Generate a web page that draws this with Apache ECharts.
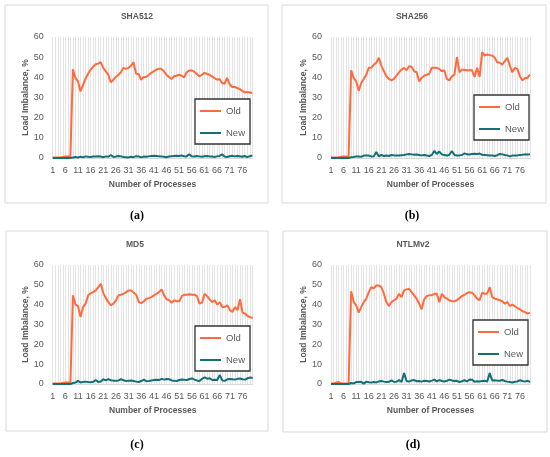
<!DOCTYPE html>
<html><head><meta charset="utf-8">
<script src="https://cdn.jsdelivr.net/npm/echarts@6/dist/echarts.min.js"></script>
<style>html,body{margin:0;padding:0;background:#fff}#c{width:550px;height:457px}</style>
</head><body><div id="c"></div><script>
const categories = Array.from({length: 80}, (_, i) => String(i + 1));
const titles = ['SHA512', 'SHA256', 'MD5', 'NTLMv2'];
const panelLabels = ['(a)', '(b)', '(c)', '(d)'];
const seriesNames = ['Old', 'New'];
const yMin = 0, yMax = 60, yStep = 10;

const sha512Old = [0.2,0.2,0.2,0.3,0.5,0.8,0.8,0.8,
 44,39.7,38,33,36.3,39.3,41.8,43.8, 45.2,46.5,46.8,47.5,44.7,43,41.3,37.5,
 38.8,40.2,41.3,42.5,44.7,44.2,44.7,45.8, 47.5,41.8,41.7,38.8,40.2,40.2,41.2,42.2,
 43,43.8,44.3,44.2,43,41.3,40.2,39.2, 40.5,40.8,41.3,40.8,40,42.5,43.3,43.5,
 42.8,41.7,40.5,41.2,42.2,41.8,41.3,40.5, 39.7,38.8,39.2,37.2,36.8,39.7,36.7,35.2,
 35.2,34.7,34.2,33.3,32.5,32.8,32.5,32.2];
const sha512New = [0,0,0,0,0,0,0,0,
 0.3,0.5,0.2,0.6,0.3,0.8,0.6,0.5, 0.7,0.8,0.9,0.7,0.4,0.8,0.6,1.5,
 0.5,0.7,1.0,0.8,0.5,0.4,0.3,0.6, 0.4,0.9,0.8,0.3,0.7,0.6,0.8,1.0,
 1.1,1.0,0.9,0.8,0.6,0.4,0.7,0.9, 1.0,1.1,1.0,1.2,0.9,0.8,1.8,0.9,
 0.7,1.0,0.8,0.6,0.9,1.0,0.8,0.7, 0.5,0.8,1.0,1.8,0.7,0.5,0.9,1.1,
 0.8,1.0,0.9,0.6,1.0,0.4,0.9,1.2];

const sha256Old = [0.2,0.2,0.3,0.4,0.6,0.8,0.8,0.8,
 43.5,39.7,38,33.3,37.2,39.2,41.3,44.7, 44.7,46.3,47.2,49.7,45.8,43,40.5,39.2,
 38.5,39.2,40.8,42.5,43.8,44.7,43.5,45.5, 45.2,43,42.5,38,39.7,40.8,41.3,41.8,
 44.7,44.7,44.7,44.2,43,43.5,39.2,38.5, 40.5,41.3,50,42.5,43.8,43.8,43.5,43.5,
 43.5,40.2,44.7,40.2,52.5,50.8,51.3,51, 50.8,49.7,47.5,47.2,46.3,48,49.7,45.8,
 42.5,44.7,44.2,40.5,38.5,39.7,39.7,41.3];
const sha256New = [0,0,0,0,0,0,0,0,
 0.4,0.5,0.8,0.7,0.6,1.2,1.3,1.2, 0.8,0.9,3.0,0.8,1.5,1.0,1.2,1.0,
 1.5,1.3,1.2,1.3,1.4,1.5,1.8,2.0, 1.8,1.6,1.7,1.5,1.3,1.5,1.2,1.0,
 1.5,3.5,2.0,3.2,1.8,1.5,1.2,1.6, 3.5,1.5,1.2,1.3,1.5,2.3,1.8,1.7,
 2.0,2.1,2.0,2.2,1.6,1.5,1.4,1.2, 1.3,1.0,1.4,2.0,1.8,1.5,1.3,0.8,
 1.2,1.3,1.3,1.5,1.6,1.8,1.7,1.8];

const md5Old = [0.2,0.2,0.3,0.3,0.5,0.7,0.8,0.8,
 44.7,40,39.3,33.8,38.8,40.5,44.7,45.8, 46.3,47.2,48.8,50.5,45.8,43.3,41.3,39.7,
 40.5,42.2,44.7,45,45.5,46.3,47.2,47.2, 46,45,41.3,40.8,41.7,43,43.3,43.8,
 44.7,45.5,46.3,47.7,44.7,42.7,42.2,41, 42.2,41.7,41.7,44.3,45,45,45.3,45,
 45,44.3,40.5,41,45.5,44.3,42.7,41.3, 42.2,40,41.3,38.8,38.8,39.7,37.2,36.3,
 38.8,37.2,42.7,36,35.5,34.3,33.7,33.3];
const md5New = [0,0,0,0,0,0,0,0,
 0.5,0.7,1.6,0.8,1.0,1.2,1.0,0.9, 1.1,2.0,1.0,1.3,2.4,1.8,2.5,1.9,
 1.7,1.6,1.8,2.4,1.9,1.5,1.7,1.8, 1.5,1.2,1.0,1.5,2.2,1.4,1.5,1.8,
 2.0,2.1,2.0,2.6,2.2,2.5,2.4,1.8, 1.6,1.5,2.0,2.3,2.1,2.0,2.5,2.8,
 2.2,1.8,1.5,2.6,3.3,2.7,2.9,2.0, 2.1,2.0,4.5,1.8,1.6,2.4,2.5,2.4,
 2.2,2.6,2.8,2.4,2.2,2.9,3.3,3.0];

const ntlmOld = [0.2,0.3,0.6,1.0,0.3,0.2,0.2,0.2,
 46.8,41.3,39.7,36,38.8,41.3,43,46.3, 48.8,48.3,49.7,49.7,48.8,45.5,41.3,39.3,
 41.3,42.2,43,45.5,43.8,47.2,47.7,48, 46.3,44.7,43,40.5,37.7,42.7,44.3,44.7,
 44.7,45.5,45.5,41.3,45.5,43.8,43,42.2, 41.7,41.7,42.2,43.3,44.3,45,45.8,46.3,
 46,44.7,43,42.2,46,45.5,45.5,48.8, 43.8,43,42.7,42.2,41.7,40.5,41.3,39.3,
 40,39.2,38.3,37.7,36.7,36.3,35.5,36];
const ntlmNew = [0,0,0,0,0,0,0,0,
 0.5,0.3,1.0,1.0,1.1,0.2,1.2,0.9, 0.7,1.0,0.8,1.3,1.5,1.2,1.0,1.1,
 1.8,1.0,1.2,2.0,1.0,5.5,1.5,1.2, 1.8,2.0,1.4,1.5,1.2,1.6,1.5,1.3,
 1.7,2.2,1.3,2.0,1.5,1.3,1.6,2.2, 1.8,1.5,1.6,1.0,1.4,1.9,1.3,2.3,
 2.2,1.1,1.4,1.3,1.5,1.6,1.2,5.5, 1.8,1.9,1.7,1.6,2.0,1.5,1.2,1.0,
 0.8,1.1,1.3,1.9,1.5,1.2,1.6,1.0];

const oldSeries = [sha512Old, sha256Old, md5Old, ntlmOld];
const newSeries = [sha512New, sha256New, md5New, ntlmNew];

const panels = [
  {grid: {left: 52.7, top: 37, width: 199.6, height: 121}, box: [5, 5, 263, 198], title: [137, 17], label: [137, 216], legend: {left: 195, top: 99}},
  {grid: {left: 331, top: 37, width: 199, height: 121}, box: [282, 5, 264, 198], title: [412, 17], label: [412, 216], legend: {left: 474, top: 95}},
  {grid: {left: 52.7, top: 265, width: 200, height: 119}, box: [6, 231, 262, 200], title: [135, 245], label: [137, 445], legend: {left: 195, top: 326}},
  {grid: {left: 331, top: 265, width: 199, height: 119}, box: [283, 231, 264, 201], title: [413, 245], label: [413, 445], legend: {left: 473, top: 320}}
];

const FONT = 'Liberation Sans';
const TXT = '#595959';
const OLD_C = '#ff6b3d';
const NEW_C = '#136f78';

const grid = [], xAxis = [], yAxis = [], series = [], legend = [], graphic = [];
panels.forEach((p, k) => {
  grid.push(Object.assign({containLabel: false}, p.grid));
  xAxis.push({
    type: 'category', gridIndex: k, data: categories, boundaryGap: false,
    axisLine: {show: true, lineStyle: {color: '#d9d9d9'}},
    axisTick: {show: false},
    axisLabel: {interval: 4, color: TXT, fontSize: 9, margin: 8, fontFamily: FONT},
    splitLine: {show: true, interval: 0, lineStyle: {color: '#e4e4e4', width: 1}},
    name: 'Number of Processes', nameLocation: 'middle', nameGap: 22,
    nameTextStyle: {fontWeight: 'bold', fontSize: 8.5, color: TXT, fontFamily: FONT}
  });
  yAxis.push({
    type: 'value', gridIndex: k, min: yMin, max: yMax, interval: yStep,
    axisLine: {show: false}, axisTick: {show: false}, splitLine: {show: false},
    axisLabel: {color: TXT, fontSize: 9, margin: 9, fontFamily: FONT},
    name: 'Load Imbalance, %', nameLocation: 'middle', nameGap: 22, nameRotate: 90,
    nameTextStyle: {fontWeight: 'bold', fontSize: 8.5, color: TXT, fontFamily: FONT}
  });
  series.push({
    name: seriesNames[0], type: 'line', xAxisIndex: k, yAxisIndex: k, data: oldSeries[k],
    symbol: 'none', lineStyle: {width: 2, color: OLD_C}, itemStyle: {color: OLD_C}, z: 3
  });
  series.push({
    name: seriesNames[1], type: 'line', xAxisIndex: k, yAxisIndex: k, data: newSeries[k],
    symbol: 'none', lineStyle: {width: 2, color: NEW_C}, itemStyle: {color: NEW_C}, z: 4
  });
  legend.push({
    left: p.legend.left, top: p.legend.top, orient: 'vertical',
    data: seriesNames.map(n => ({name: n, icon: 'rect'})),
    itemWidth: 21, itemHeight: 2, itemGap: 12,
    padding: [7, 5, 6, 5],
    borderColor: '#333', borderWidth: 1.3, backgroundColor: '#fff',
    selectedMode: false,
    textStyle: {color: TXT, fontSize: 9.5, fontFamily: FONT}
  });
  graphic.push({
    type: 'rect', shape: {x: p.box[0], y: p.box[1], width: p.box[2], height: p.box[3]},
    style: {fill: 'none', stroke: '#d9d9d9', lineWidth: 1}, z: -1
  });
  graphic.push({
    type: 'text', x: p.title[0], y: p.title[1],
    style: {text: titles[k], fill: TXT, font: 'bold 8.5px "' + FONT + '"', textAlign: 'center', textVerticalAlign: 'middle'}
  });
  graphic.push({
    type: 'text', x: p.label[0], y: p.label[1],
    style: {text: panelLabels[k], fill: '#000', font: 'bold 12px "Liberation Serif"', textAlign: 'center', textVerticalAlign: 'middle'}
  });
});

const chart = echarts.init(document.getElementById('c'), null, {renderer: 'canvas'});
chart.setOption({
  animation: false,
  backgroundColor: '#fff',
  textStyle: {fontFamily: FONT},
  grid, xAxis, yAxis, series, legend, graphic
});
</script></body></html>
